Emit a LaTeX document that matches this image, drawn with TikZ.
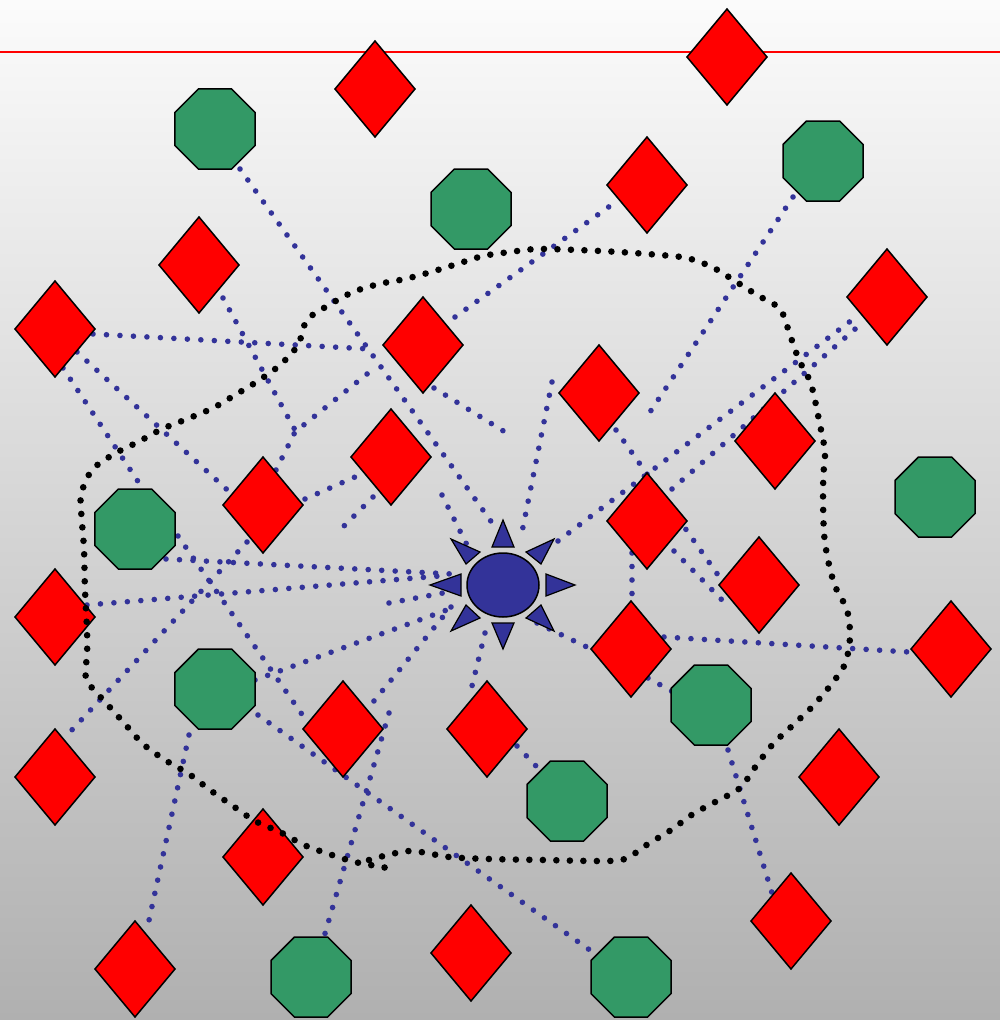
\documentclass[tikz,border=0pt]{standalone}
\usetikzlibrary{shapes.geometric,calc}
\definecolor{sunblue}{RGB}{51,51,153}
\definecolor{octgreen}{RGB}{51,153,102}
\definecolor{bgtop}{gray}{0.985}
\definecolor{bgbot}{gray}{0.69}
\pgfdeclarelayer{bglayer}
\pgfdeclarelayer{linklayer}
\pgfdeclarelayer{toplayer}
\pgfsetlayers{bglayer,linklayer,main,toplayer}
\begin{document}
\begin{tikzpicture}[x=1pt,y=-1pt,
  dia/.style={shape=diamond, draw=black, line width=1.5pt, fill=red, minimum width=80pt, minimum height=96pt, inner sep=0pt, outer sep=0pt},
  oct/.style={shape=regular polygon, regular polygon sides=8, draw=black, line width=1.5pt, fill=octgreen, minimum size=86.6pt, inner sep=0pt, outer sep=0pt},
  link/.style={draw=sunblue, line width=5.6pt, line cap=round, dash pattern=on 0pt off 13.5pt},
  bound/.style={draw=black, line width=6.6pt, line cap=round, dash pattern=on 0pt off 13.5pt},
  ray/.style={draw=black, line width=1.2pt, fill=sunblue, line join=miter},
  sunbody/.style={shape=ellipse, draw=black, line width=1.5pt, fill=sunblue, minimum width=72pt, minimum height=64pt, inner sep=0pt},
]
\useasboundingbox (0,0) rectangle (1000,1020);
\begin{pgfonlayer}{bglayer}
  \shade[top color=bgtop, bottom color=bgbot] (0,0) rectangle (1000,1020);
  \draw[red, line width=1.8pt] (0,52) -- (1000,52);
\end{pgfonlayer}

% diamonds
\node[dia] (d1) at (375,89) {};
\node[dia] (d2) at (727,57) {};
\node[dia] (d3) at (647,185) {};
\node[dia] (d4) at (199,265) {};
\node[dia] (d5) at (55,329) {};
\node[dia] (d6) at (423,345) {};
\node[dia] (d7) at (887,297) {};
\node[dia] (d8) at (599,393) {};
\node[dia] (d9) at (775,441) {};
\node[dia] (d10) at (391,457) {};
\node[dia] (d11) at (263,505) {};
\node[dia] (d12) at (647,521) {};
\node[dia] (d13) at (759,585) {};
\node[dia] (d14) at (55,617) {};
\node[dia] (d15) at (631,649) {};
\node[dia] (d16) at (951,649) {};
\node[dia] (d17) at (343,729) {};
\node[dia] (d18) at (487,729) {};
\node[dia] (d19) at (55,777) {};
\node[dia] (d20) at (839,777) {};
\node[dia] (d21) at (263,857) {};
\node[dia] (d22) at (791,921) {};
\node[dia] (d23) at (135,969) {};
\node[dia] (d24) at (471,953) {};

% octagons
\node[oct] (o1) at (215,129) {};
\node[oct] (o2) at (471,209) {};
\node[oct] (o3) at (823,161) {};
\node[oct] (o4) at (135,529) {};
\node[oct] (o5) at (935,497) {};
\node[oct] (o6) at (215,689) {};
\node[oct] (o7) at (711,705) {};
\node[oct] (o8) at (567,801) {};
\node[oct] (o9) at (311,977) {};
\node[oct] (o10) at (631,977) {};

% sun
\node[sunbody] (s) at (503,585) {};
\begin{scope}[shift={(s)}]
  \draw[ray] (0,-65) -- (-11,-38) -- (11,-38) -- cycle;
  \draw[ray] (0,64) -- (-11,38) -- (11,38) -- cycle;
  \draw[ray] (-73,0) -- (-42,-11) -- (-42,11) -- cycle;
  \draw[ray] (72,0) -- (43,-11) -- (43,11) -- cycle;
  \draw[ray] (-52,-46) -- (-23,-33) -- (-37,-21) -- cycle;
  \draw[ray] (51,-46) -- (23,-33) -- (38,-21) -- cycle;
  \draw[ray] (-52,46) -- (-23,33) -- (-37,20) -- cycle;
  \draw[ray] (51,46) -- (23,33) -- (38,20) -- cycle;
\end{scope}

% dotted blue connectors
\begin{pgfonlayer}{linklayer}
\draw[link] ($(o1)+(25,40)$) -- ($(s)+(-8,-58)$);
\draw[link] ($(d5)+(38,5)$) -- ($(d6)+(-53,4)$);
\draw[link] ($(d5)+(22,23)$) -- ($(d11)+(-28,-8)$);
\draw[link] ($(d5)+(8,39)$) -- ($(o4)+(8,-40)$);
\draw[link] ($(d4)+(24,33)$) -- ($(d11)+(32,-75)$);
\draw[link] ($(d11)+(13,-35)$) -- ($(d11)+(32,-73)$) -- ($(d6)+(-51,25)$);
\draw[link] ($(o4)+(31,30)$) -- ($(s)+(-51,-11)$);
\draw[link] ($(d14)+(32,-12)$) -- ($(s)+(-63,-9)$);
\draw[link] ($(s)+(-114,18)$) -- ($(s)+(-60,8)$);
\draw[link] ($(o6)+(40,-9)$) -- ($(s)+(-48,22)$);
\draw[link] ($(o4)+(43,7)$) -- ($(d17)+(-35,-6)$);
\draw[link] ($(d11)+(-16,37)$) -- ($(d19)+(15,-45)$);
\draw[link] ($(d11)+(42,-6)$) -- ($(d10)+(-36,20)$);
\draw[link] ($(d10)+(-18,40)$) -- ($(d10)+(-48,70)$);
\draw[link] ($(d6)+(11,43)$) -- ($(d6)+(82,87)$);
\draw[link] ($(d6)+(32,-28)$) -- ($(d3)+(-37,21)$);
\draw[link] ($(d10)+(51,38)$) -- ($(s)+(-36,-40)$);
\draw[link] ($(d8)+(-47,-11)$) -- ($(s)+(19,-53)$);
\draw[link] ($(s)+(55,-44)$) -- ($(d7)+(-35,23)$);
\draw[link] ($(d12)+(25,-32)$) -- ($(d7)+(-25,26)$);
\draw[link] ($(d8)+(17,37)$) -- ($(d13)+(-41,-10)$);
\draw[link] ($(d12)+(27,30)$) -- ($(d13)+(-37,15)$);
\draw[link] ($(d12)+(-15,32)$) -- ($(d15)+(1,-42)$);
\draw[link] ($(s)+(34,38)$) -- ($(d15)+(-40,0)$);
\draw[link] ($(d15)+(33,-12)$) -- ($(d16)+(-42,3)$);
\draw[link] ($(d15)+(17,29)$) -- ($(o7)+(-36,-12)$);
\draw[link] ($(o7)+(17,45)$) -- ($(d22)+(-19,-28)$);
\draw[link] ($(o3)+(-30,36)$) -- ($(d8)+(51,19)$);
\draw[link] ($(d18)+(30,17)$) -- ($(o8)+(-31,-35)$);
\draw[link] ($(s)+(-18,48)$) -- ($(d18)+(-15,-43)$);
\draw[link] ($(s)+(-52,22)$) -- ($(d17)+(26,-22)$);
\draw[link] ($(d17)+(46,-16)$) -- ($(o9)+(13,-40)$);
\draw[link] ($(o6)+(-26,46)$) -- ($(d23)+(13,-44)$);
\draw[link] ($(o6)+(43,26)$) -- ($(o10)+(-37,-24)$);
\end{pgfonlayer}

% black dotted boundary
\begin{pgfonlayer}{toplayer}
\draw[bound] plot[smooth, tension=0.5] coordinates {
(369,860) (409,851) (449,857) (490,859) (544,860) (599,861) (625,859)
(648,844) (671,830) (693,814) (717,801) (740,788) (756,766) (773,744)
(792,726) (812,707) (830,686) (845,664) (850,637) (847,610) (835,586)
(828,560) (824,533) (823,492) (824,465) (825,451) (820,425) (811,384)
(799,360) (790,335) (780,309) (757,295) (735,281) (712,267) (687,258)
(660,255) (619,252) (578,250) (537,249) (510,252) (483,256) (457,264)
(431,272) (405,279) (379,284) (353,292) (329,305) (307,320) (298,345)
(280,365) (258,381) (235,395) (213,408) (187,419) (162,429) (138,442)
(114,454) (92,470) (81,495) (82,522) (84,549) (85,590) (87,630) (87,657)
(85,671) (89,684) (107,704) (125,724) (143,744) (165,760) (189,774)
(210,790) (233,806) (255,821) (280,832) (304,845) (329,854) (355,862)
(382,867) (397,870)};
\end{pgfonlayer}
\end{tikzpicture}
\end{document}
